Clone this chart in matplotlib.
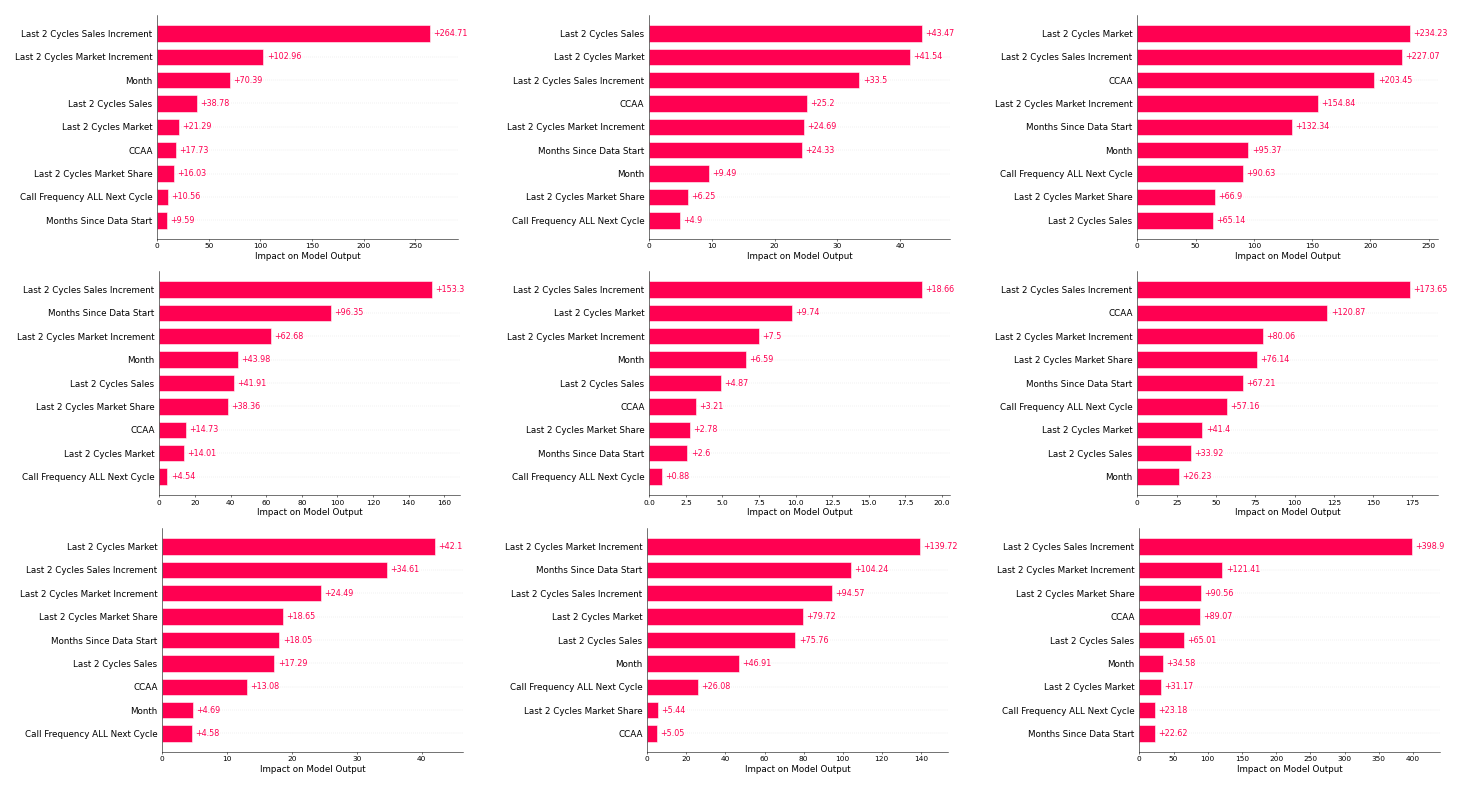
import matplotlib
matplotlib.use("Agg")
import matplotlib.pyplot as plt
import numpy as np

# ---- data (top-to-bottom order as shown) ----
panel1_features = ["Last 2 Cycles Sales Increment", "Last 2 Cycles Market Increment", "Month",
                   "Last 2 Cycles Sales", "Last 2 Cycles Market", "CCAA",
                   "Last 2 Cycles Market Share", "Call Frequency ALL Next Cycle", "Months Since Data Start"]
panel1_values = [264.71, 102.96, 70.39, 38.78, 21.29, 17.73, 16.03, 10.56, 9.59]

panel2_features = ["Last 2 Cycles Sales", "Last 2 Cycles Market", "Last 2 Cycles Sales Increment",
                   "CCAA", "Last 2 Cycles Market Increment", "Months Since Data Start",
                   "Month", "Last 2 Cycles Market Share", "Call Frequency ALL Next Cycle"]
panel2_values = [43.47, 41.54, 33.5, 25.2, 24.69, 24.33, 9.49, 6.25, 4.9]

panel3_features = ["Last 2 Cycles Market", "Last 2 Cycles Sales Increment", "CCAA",
                   "Last 2 Cycles Market Increment", "Months Since Data Start", "Month",
                   "Call Frequency ALL Next Cycle", "Last 2 Cycles Market Share", "Last 2 Cycles Sales"]
panel3_values = [234.23, 227.07, 203.45, 154.84, 132.34, 95.37, 90.63, 66.9, 65.14]

panel4_features = ["Last 2 Cycles Sales Increment", "Months Since Data Start", "Last 2 Cycles Market Increment",
                   "Month", "Last 2 Cycles Sales", "Last 2 Cycles Market Share",
                   "CCAA", "Last 2 Cycles Market", "Call Frequency ALL Next Cycle"]
panel4_values = [153.3, 96.35, 62.68, 43.98, 41.91, 38.36, 14.73, 14.01, 4.54]

panel5_features = ["Last 2 Cycles Sales Increment", "Last 2 Cycles Market", "Last 2 Cycles Market Increment",
                   "Month", "Last 2 Cycles Sales", "CCAA",
                   "Last 2 Cycles Market Share", "Months Since Data Start", "Call Frequency ALL Next Cycle"]
panel5_values = [18.66, 9.74, 7.5, 6.59, 4.87, 3.21, 2.78, 2.6, 0.88]

panel6_features = ["Last 2 Cycles Sales Increment", "CCAA", "Last 2 Cycles Market Increment",
                   "Last 2 Cycles Market Share", "Months Since Data Start", "Call Frequency ALL Next Cycle",
                   "Last 2 Cycles Market", "Last 2 Cycles Sales", "Month"]
panel6_values = [173.65, 120.87, 80.06, 76.14, 67.21, 57.16, 41.4, 33.92, 26.23]

panel7_features = ["Last 2 Cycles Market", "Last 2 Cycles Sales Increment", "Last 2 Cycles Market Increment",
                   "Last 2 Cycles Market Share", "Months Since Data Start", "Last 2 Cycles Sales",
                   "CCAA", "Month", "Call Frequency ALL Next Cycle"]
panel7_values = [42.1, 34.61, 24.49, 18.65, 18.05, 17.29, 13.08, 4.69, 4.58]

panel8_features = ["Last 2 Cycles Market Increment", "Months Since Data Start", "Last 2 Cycles Sales Increment",
                   "Last 2 Cycles Market", "Last 2 Cycles Sales", "Month",
                   "Call Frequency ALL Next Cycle", "Last 2 Cycles Market Share", "CCAA"]
panel8_values = [139.72, 104.24, 94.57, 79.72, 75.76, 46.91, 26.08, 5.44, 5.05]

panel9_features = ["Last 2 Cycles Sales Increment", "Last 2 Cycles Market Increment", "Last 2 Cycles Market Share",
                   "CCAA", "Last 2 Cycles Sales", "Month",
                   "Last 2 Cycles Market", "Call Frequency ALL Next Cycle", "Months Since Data Start"]
panel9_values = [398.9, 121.41, 90.56, 89.07, 65.01, 34.58, 31.17, 23.18, 22.62]

x_label = "Impact on Model Output"

panels = [
    (panel1_features, panel1_values), (panel2_features, panel2_values), (panel3_features, panel3_values),
    (panel4_features, panel4_values), (panel5_features, panel5_values), (panel6_features, panel6_values),
    (panel7_features, panel7_values), (panel8_features, panel8_values), (panel9_features, panel9_values),
]

# ---- layout (pixel boxes of each axes in the 1462x790 canvas) ----
W, H = 1462, 790
DPI = 48.3
row_tops = [15.0, 271.0, 528.3]
row_bottoms = [238.7, 495.0, 751.7]
col_lefts = [[157.3, 649.0, 1137.3], [159.3, 649.3, 1137.3], [162.3, 647.3, 1139.3]]
ax_w = 301.0

RED = (1.0, 0.0, 0.3176)

fig = plt.figure(figsize=(W / DPI, H / DPI), dpi=DPI)


def fmt(v):
    s = "%+0.02f" % v
    s = s.rstrip("0").rstrip(".")
    return s


for k, (feats, vals) in enumerate(panels):
    r, c = divmod(k, 3)
    left = col_lefts[r][c] / W
    bottom = 1 - row_bottoms[r] / H
    height = (row_bottoms[r] - row_tops[r]) / H
    ax = fig.add_axes([left, bottom, ax_w / W, height])

    n = len(feats)
    y_pos = np.arange(n, 0, -1)
    for y in y_pos:
        ax.axhline(y, color="#888888", lw=0.5, dashes=(1, 5), zorder=-1)
    ax.barh(y_pos, vals, 0.7, align="center", color=RED, edgecolor=(1, 1, 1, 0.8))
    ax.set_yticks(y_pos)
    ax.set_yticklabels(feats, fontsize=13)
    ax.xaxis.set_ticks_position("bottom")
    ax.yaxis.set_ticks_position("none")
    ax.spines["right"].set_visible(False)
    ax.spines["top"].set_visible(False)
    ax.tick_params("x", labelsize=11)
    xmin, xmax = ax.get_xlim()
    ax.set_xlim(xmin, xmax + (xmax - xmin) * 0.05)
    ax.set_xlabel(x_label, fontsize=13)

    xlen = ax.get_xlim()[1] - ax.get_xlim()[0]
    bbox_w = (ax_w / W) * fig.get_figwidth()
    scale = xlen / bbox_w
    for y, v in zip(y_pos, vals):
        ax.text(v + (5 / 72) * scale, y, fmt(v), ha="left", va="center",
                color=RED, fontsize=12)

fig.savefig("out.png", dpi=DPI)
